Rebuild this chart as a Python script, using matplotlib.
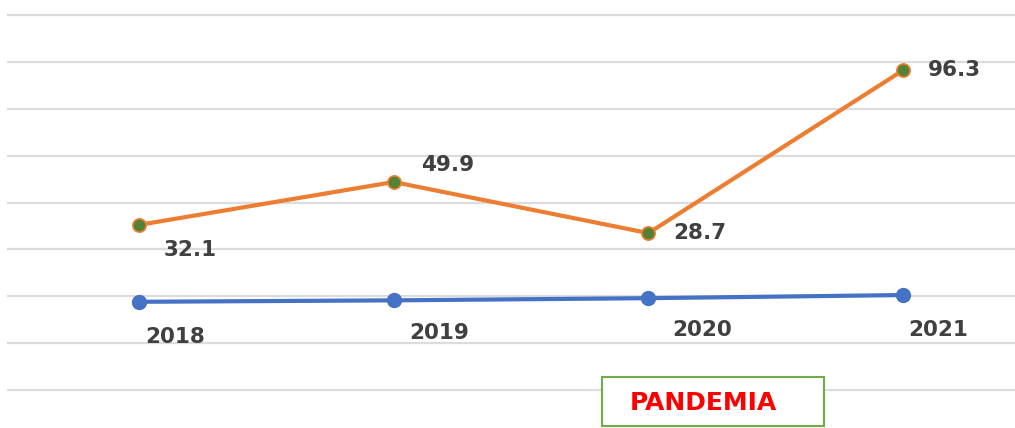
import matplotlib
matplotlib.use("Agg")
import matplotlib.pyplot as plt
from matplotlib.patches import Rectangle
import numpy as np

categories = ["2018", "2019", "2020", "2021"]
orange_values = [32.1, 49.9, 28.7, 96.3]
blue_values = [0.2, 0.8, 1.7, 3.0]
orange_labels = ["32.1", "49.9", "28.7", "96.3"]
box_text = "PANDEMIA"

W, H = 1015, 428
fig = plt.figure(figsize=(W / 100, H / 100), dpi=100)
fig.patch.set_facecolor("white")

# axes spans gridline area (x 8..1015, y 15..390 px)
ax = fig.add_axes([8 / W, (H - 390) / H, (W - 8) / W, 375 / H])
ax.set_xlim(-0.514, 3.439)
ymin, ymax = -36.4, 119.2
ax.set_ylim(ymin, ymax)
for s in ax.spines.values():
    s.set_visible(False)
ax.set_xticks([])
ax.set_yticks([])
ax.patch.set_alpha(0)

for g in np.linspace(ymin, ymax, 9):
    ax.axhline(g, color="#dcdcdc", lw=1.6, clip_on=False, zorder=1)

x = np.arange(len(categories))
ax.plot(x, blue_values, color="#4472C4", lw=3.0, marker="o", ms=10,
        mfc="#4472C4", mec="#4472C4", zorder=3, solid_capstyle="round")
ax.plot(x, orange_values, color="#ED7D31", lw=3.0, marker="o", ms=9.5,
        mfc="#548235", mec="#ED7D31", mew=1.2, zorder=4, solid_capstyle="round")

txt_kw = dict(fontsize=15.5, fontweight="bold", color="#404040",
              family="DejaVu Sans", ha="center", va="center",
              textcoords="offset pixels", zorder=5)

orange_offsets = [(51, -25), (54, 17), (51, 0), (51, 0)]
for xi, v, lab, off in zip(x, orange_values, orange_labels, orange_offsets):
    ax.annotate(lab, (xi, v), xytext=off, **txt_kw)

year_offsets = [(36, -35), (46, -33), (54, -32), (35, -35)]
for xi, v, lab, off in zip(x, blue_values, categories, year_offsets):
    ax.annotate(lab, (xi, v), xytext=off, **txt_kw)

# PANDEMIA box
bx0, by0, bx1, by1 = 602, 377, 824, 426
rect = Rectangle((bx0 / W, (H - by1) / H), (bx1 - bx0) / W, (by1 - by0) / H,
                 transform=fig.transFigure, facecolor="white",
                 edgecolor="#70AD47", lw=1.5, zorder=10)
fig.patches.append(rect)
fig.text(703 / W, (H - 403) / H, box_text, fontsize=18, fontweight="bold",
         color="#FF0000", family="DejaVu Sans", ha="center", va="center",
         zorder=11)

fig.savefig("out.png", dpi=100, facecolor="white")
